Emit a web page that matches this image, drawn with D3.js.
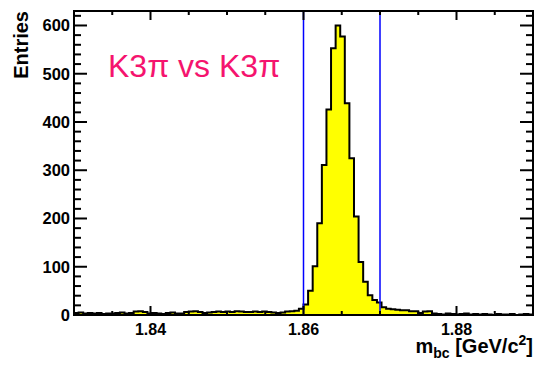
<!DOCTYPE html>
<html>
<head>
<meta charset="utf-8">
<script src="https://cdn.jsdelivr.net/npm/d3@7"></script>
<style>
  html, body { margin: 0; padding: 0; background: #fff; }
  svg { display: block; font-family: "Liberation Sans", Arial, Helvetica, sans-serif; }
</style>
</head>
<body>
<svg id="chart" width="536" height="367"></svg>
<script>
// Histogram range and binning (100 bins over 1.83 – 1.89 GeV/c^2)
const histRange = [1.83, 1.89];
const nBins = 100;

// Entries per bin, left to right
const counts = [
  4, 5, 3, 4, 3, 4, 2, 3, 3, 4,
  5, 3, 4, 7, 8, 6, 3, 4, 3, 2,
  4, 5, 3, 3, 6, 7, 8, 6, 4, 5,
  6, 7, 6, 7, 6, 8, 7, 6, 6, 7,
  6, 7, 6, 5, 4, 5, 7, 8, 9, 13,
  22, 50, 101, 190, 311, 426, 553, 600, 577, 439,
  325, 204, 110, 69, 41, 31, 26, 16, 13, 12,
  11, 10, 10, 8, 8, 4, 7, 8, 3, 2,
  1, 3, 2, 1, 2, 3, 1, 2, 1, 2,
  1, 0, 2, 1, 1, 2, 0, 1, 2, 1
];

// Signal window cut lines
const cutLines = [1.86, 1.87];

// Axis ticks and labels
const xMajorTicks = [1.84, 1.86, 1.88];
const xTickLabels = ["1.84", "1.86", "1.88"];
const yMax = 630;
const yMajorTicks = [0, 100, 200, 300, 400, 500, 600];
const yTickLabels = ["0", "100", "200", "300", "400", "500", "600"];

const titleText = "K3\u03C0 vs K3\u03C0";

const svg = d3.select("#chart");
const plot = { left: 74, right: 533, top: 11, bottom: 315 };

const x = d3.scaleLinear().domain(histRange).range([plot.left, plot.right]);
const y = d3.scaleLinear().domain([0, yMax]).range([plot.bottom, plot.top]);

const binWidth = (histRange[1] - histRange[0]) / nBins;
const steps = counts.map((c, i) => ({ x0: histRange[0] + i * binWidth, v: c }));
steps.push({ x0: histRange[1], v: counts[counts.length - 1] });

// Filled histogram
const area = d3.area()
  .x(d => x(d.x0))
  .y0(y(0))
  .y1(d => y(d.v))
  .curve(d3.curveStepAfter);
const line = d3.line()
  .x(d => x(d.x0))
  .y(d => y(d.v))
  .curve(d3.curveStepAfter);

svg.append("path")
  .datum(steps)
  .attr("d", area)
  .attr("fill", "#ffff00");
svg.append("path")
  .datum(steps)
  .attr("d", line)
  .attr("fill", "none")
  .attr("stroke", "#000")
  .attr("stroke-width", 2);

// Cut lines
svg.selectAll(".cut")
  .data(cutLines)
  .enter().append("line")
  .attr("x1", d => x(d)).attr("x2", d => x(d))
  .attr("y1", plot.top).attr("y2", plot.bottom)
  .attr("stroke", "#0000ff")
  .attr("stroke-width", 1.5);

// Frame
svg.append("rect")
  .attr("x", plot.left).attr("y", plot.top)
  .attr("width", plot.right - plot.left)
  .attr("height", plot.bottom - plot.top)
  .attr("fill", "none")
  .attr("stroke", "#000")
  .attr("stroke-width", 2);

// X ticks: bottom (pointing up) and top (pointing down)
const xMinor = d3.range(0, 13).map(i => histRange[0] + i * 0.005)
  .filter(v => !xMajorTicks.some(m => Math.abs(m - v) < 1e-9));
const tickG = svg.append("g").attr("stroke", "#000").attr("stroke-width", 2);
xMajorTicks.forEach(v => {
  tickG.append("line").attr("x1", x(v)).attr("x2", x(v)).attr("y1", plot.bottom).attr("y2", plot.bottom - 9);
  tickG.append("line").attr("x1", x(v)).attr("x2", x(v)).attr("y1", plot.top).attr("y2", plot.top + 9);
});
xMinor.forEach(v => {
  tickG.append("line").attr("x1", x(v)).attr("x2", x(v)).attr("y1", plot.bottom).attr("y2", plot.bottom - 4);
  tickG.append("line").attr("x1", x(v)).attr("x2", x(v)).attr("y1", plot.top).attr("y2", plot.top + 4);
});

// Y ticks: left and right, pointing inward
const yMinor = d3.range(0, yMax + 1, 20).filter(v => v % 100 !== 0);
yMajorTicks.forEach(v => {
  tickG.append("line").attr("x1", plot.left).attr("x2", plot.left + 13).attr("y1", y(v)).attr("y2", y(v));
  tickG.append("line").attr("x1", plot.right).attr("x2", plot.right - 13).attr("y1", y(v)).attr("y2", y(v));
});
yMinor.forEach(v => {
  tickG.append("line").attr("x1", plot.left).attr("x2", plot.left + 7).attr("y1", y(v)).attr("y2", y(v));
  tickG.append("line").attr("x1", plot.right).attr("x2", plot.right - 7).attr("y1", y(v)).attr("y2", y(v));
});

// Tick labels
svg.append("g").selectAll("text")
  .data(xMajorTicks)
  .enter().append("text")
  .attr("x", d => x(d))
  .attr("y", 335)
  .attr("text-anchor", "middle")
  .attr("font-size", 16)
  .attr("font-weight", "bold")
  .text((d, i) => xTickLabels[i]);

svg.append("g").selectAll("text")
  .data(yMajorTicks)
  .enter().append("text")
  .attr("x", 70)
  .attr("y", d => y(d) + 6)
  .attr("text-anchor", "end")
  .attr("font-size", 16.5)
  .attr("font-weight", "bold")
  .text((d, i) => yTickLabels[i]);

// Axis titles
svg.append("text")
  .attr("transform", "translate(28,11) rotate(-90)")
  .attr("text-anchor", "end")
  .attr("font-size", 20)
  .attr("font-weight", "bold")
  .text("Entries");

const xt = svg.append("text")
  .attr("x", 533)
  .attr("y", 353)
  .attr("text-anchor", "end")
  .attr("font-size", 20)
  .attr("font-weight", "bold");
xt.append("tspan").text("m");
xt.append("tspan").attr("font-size", 14).attr("dy", 5).text("bc");
xt.append("tspan").attr("dy", -5).text(" [GeV/c");
xt.append("tspan").attr("font-size", 14).attr("dy", -8).text("2");
xt.append("tspan").attr("dy", 8).text("]");

// Sample label
svg.append("text")
  .attr("x", 108)
  .attr("y", 77)
  .attr("font-size", 32)
  .attr("fill", "#f5146e")
  .text(titleText);
</script>
</body>
</html>
